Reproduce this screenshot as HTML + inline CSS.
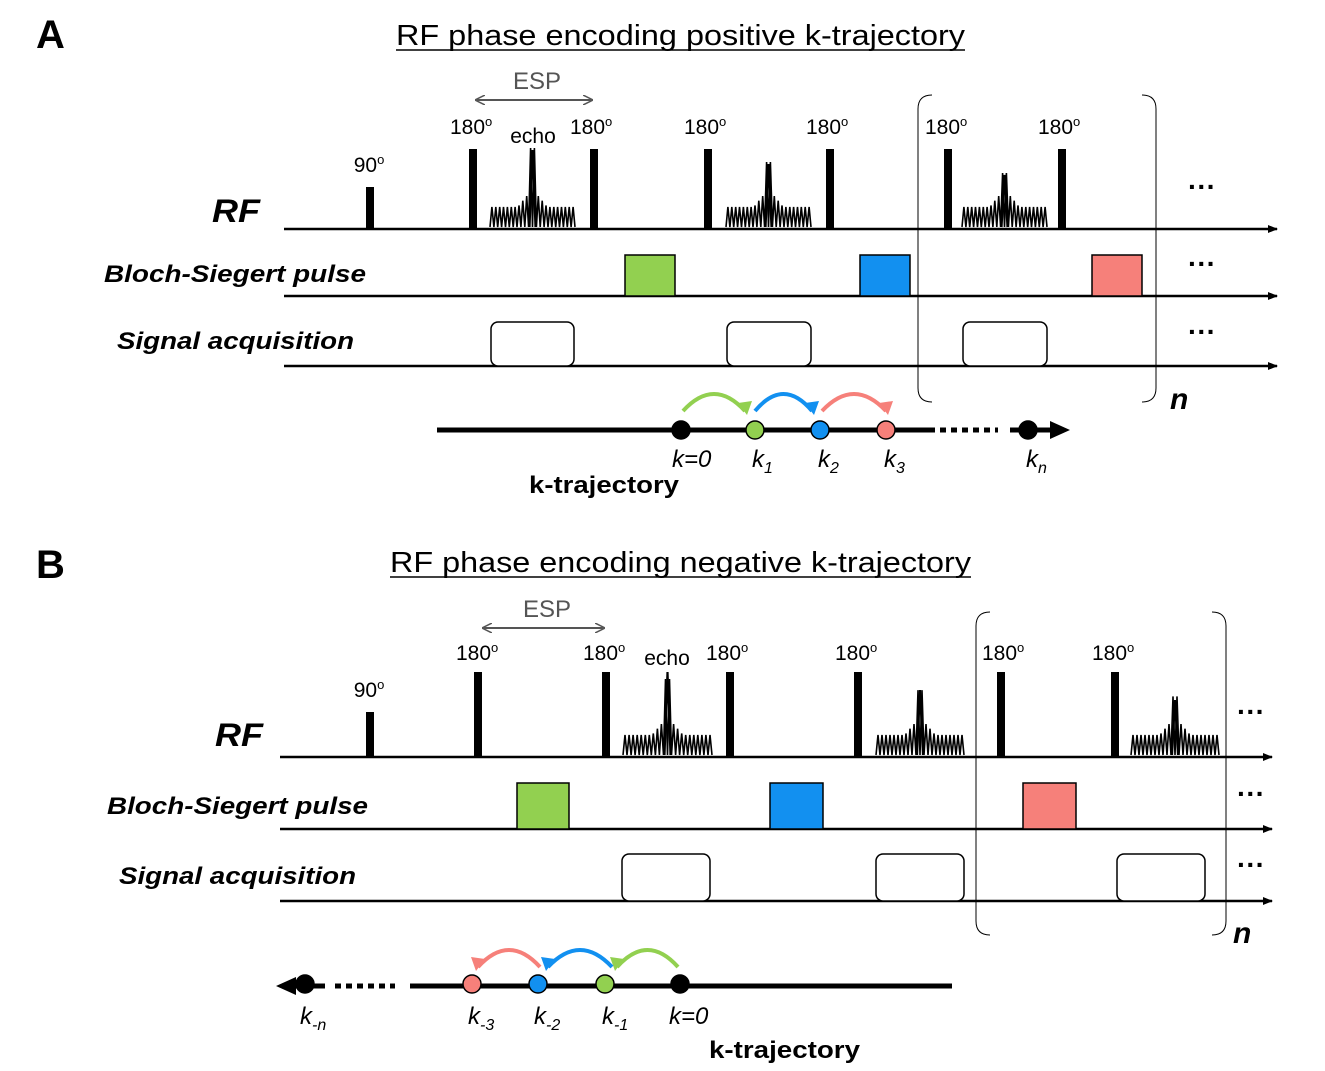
<!DOCTYPE html>
<html><head><meta charset="utf-8"><style>
body{margin:0;background:#fff}
svg{display:block}
text{font-family:"Liberation Sans",Arial,sans-serif}
.lbl{font-weight:bold;font-style:italic}
</style></head><body>
<svg id="s" width="1325" height="1071" viewBox="0 0 1325 1071" xmlns="http://www.w3.org/2000/svg">
<defs>
<marker id="ah" markerWidth="10" markerHeight="10" refX="9" refY="5" orient="auto" markerUnits="userSpaceOnUse"><path d="M0,1 L10,5 L0,9 Z" fill="#000"/></marker>
<marker id="gh" markerWidth="10" markerHeight="10" refX="9" refY="5" orient="auto-start-reverse" markerUnits="userSpaceOnUse"><path d="M0,0 L10,5 L0,10" fill="none" stroke="#555" stroke-width="1.5"/></marker>
</defs>
<text x="36" y="48" font-size="40" font-weight="bold">A</text>
<text x="36" y="578" font-size="40" font-weight="bold">B</text>
<g id="g"></g>
</svg>
<script>
var g=document.getElementById('g'),h='';
function L(x1,y1,x2,y2,w,c,m){h+='<line x1="'+x1+'" y1="'+y1+'" x2="'+x2+'" y2="'+y2+'" stroke="'+(c||'#000')+'" stroke-width="'+w+'"'+(m?' marker-end="url(#'+m+')"':'')+'/>';}
function R(x,y,w,hh,f,rx){h+='<rect x="'+x+'" y="'+y+'" width="'+w+'" height="'+hh+'" fill="'+f+'" stroke="#000" stroke-width="1.5"'+(rx?' rx="'+rx+'"':'')+'/>';}
function T(x,y,s,t,extra){h+='<text x="'+x+'" y="'+y+'" font-size="'+s+'" '+(extra||'')+'>'+t+'</text>';}
function TL(x,y,s,t,len,extra){h+='<text x="'+x+'" y="'+y+'" font-size="'+s+'" textLength="'+len+'" lengthAdjust="spacingAndGlyphs" '+(extra||'')+'>'+t+'</text>';}
function P(x,top,base){h+='<rect x="'+(x-4)+'" y="'+top+'" width="8" height="'+(base-top)+'" fill="#000"/>';}
function echo(x0,x1,base,top){var c=(x0+x1)/2,n=22,p='',hw=(x1-x0)/2;for(var i=0;i<=n*2;i++){var x=x0+(x1-x0)*i/(n*2);var d=Math.abs(x-c)/hw;var a;if(i%2==0)a=0;else{a=20+ (d<0.12?(base-top-20)*(1-d/0.12):0)+ (d<0.35?18*(1-d/0.35):0);}
if(Math.abs(x-c)<2&&i%2==1)a=base-top;p+=x.toFixed(1)+','+(base-2-a).toFixed(1)+' ';}
p=x0+','+(base-2)+' '+p;h+='<polyline points="'+p+'" fill="none" stroke="#000" stroke-width="1.6"/>';
h+='<path d="M'+(c-3)+','+(base-2)+' L'+c+','+top+' L'+(c+3)+','+(base-2)+'" fill="none" stroke="#000" stroke-width="2.2"/>';}
function dots(x,y){h+='<text x="'+x+'" y="'+y+'" font-size="28" font-weight="bold">···</text>';}
function circ(x,y,f){h+='<circle cx="'+x+'" cy="'+y+'" r="9" fill="'+f+'" stroke="#000" stroke-width="1.5"/>';}
function arc(x1,x2,y,c,rev){var m=(x1+x2)/2;h+='<path d="M'+x1+','+y+' Q'+m+','+(y-34)+' '+x2+','+y+'" fill="none" stroke="'+c+'" stroke-width="4"/>';
var dx=rev?-1:1;h+='<path d="M'+(x2-7*dx)+','+(y-8)+' L'+(x2+2*dx)+','+(y+4)+' L'+(x2+7*dx)+','+(y-10)+' Z" fill="'+c+'"/>';}
function brk(x1,x2,y1,y2){h+='<path d="M'+(x1+14)+','+y1+' Q'+x1+','+y1+' '+x1+','+(y1+14)+' L'+x1+','+(y2-14)+' Q'+x1+','+y2+' '+(x1+14)+','+y2+'" fill="none" stroke="#000" stroke-width="1"/>';
h+='<path d="M'+(x2-14)+','+y1+' Q'+x2+','+y1+' '+x2+','+(y1+14)+' L'+x2+','+(y2-14)+' Q'+x2+','+y2+' '+(x2-14)+','+y2+'" fill="none" stroke="#000" stroke-width="1"/>';}
var G='#92d050',B='#1290f0',Rd='#f6807a';
// ---- A ----
TL(396,45,29,'RF phase encoding positive k-trajectory',569);
L(396,50,965,50,1.5);
L(284,229,1277,229,2.5,0,'ah');L(284,296,1277,296,2.5,0,'ah');L(284,366,1277,366,2.5,0,'ah');
TL(212,222,32,'RF',48,'class="lbl"');TL(104,282,24,'Bloch-Siegert pulse',262,'class="lbl"');TL(117,349,24,'Signal acquisition',237,'class="lbl"');
P(370,187,229);[473,594,708,830,948,1062].forEach(function(x){P(x,149,229);});
T(369,172,21,'90<tspan dy="-8" font-size="13">o</tspan>','text-anchor="middle"');
[[473,450],[594,570],[708,684],[830,806],[948,925],[1062,1038]].forEach(function(a){T(a[1],134,21,'180<tspan dy="-8" font-size="13">o</tspan>');});
T(533,143,21,'echo','text-anchor="middle"');
h+='<line x1="476" y1="100" x2="592" y2="100" stroke="#555" stroke-width="2" marker-start="url(#gh)" marker-end="url(#gh)"/>';T(537,89,24,'ESP','text-anchor="middle" fill="#555"');
echo(490,575,229,150);echo(726,811,229,164);echo(962,1047,229,175);
R(625,255,50,41,G);R(860,255,50,41,B);R(1092,255,50,41,Rd);
R(491,322,83,44,'#fff',7);R(727,322,84,44,'#fff',7);R(963,322,84,44,'#fff',7);
brk(918,1156,95,402);T(1170,409,30,'n','class="lbl"');
dots(1188,196);dots(1188,273);dots(1188,341);
L(437,430,935,430,5);h+='<line x1="940" y1="430" x2="998" y2="430" stroke="#000" stroke-width="5" stroke-dasharray="6,5"/>';L(1010,430,1052,430,5);h+='<path d="M1050,421 L1070,430 L1050,439 Z"/>';
arc(683,745,411,G);arc(755,812,411,B);arc(822,886,411,Rd);
circ(681,430,'#000');circ(755,430,G);circ(820,430,B);circ(886,430,Rd);circ(1028,430,'#000');
T(672,467,24,'k=0','font-style="italic"');T(752,467,24,'k<tspan dy="6" font-size="16">1</tspan>','font-style="italic"');T(818,467,24,'k<tspan dy="6" font-size="16">2</tspan>','font-style="italic"');T(884,467,24,'k<tspan dy="6" font-size="16">3</tspan>','font-style="italic"');T(1026,467,24,'k<tspan dy="6" font-size="16">n</tspan>','font-style="italic"');
TL(529,493,24,'k-trajectory',150,'font-weight="bold"');
// ---- B ----
TL(390,572,29,'RF phase encoding negative k-trajectory',581);
L(390,577,971,577,1.5);
L(280,757,1272,757,2.5,0,'ah');L(280,829,1272,829,2.5,0,'ah');L(280,901,1272,901,2.5,0,'ah');
TL(215,746,32,'RF',48,'class="lbl"');TL(107,814,24,'Bloch-Siegert pulse',261,'class="lbl"');TL(119,884,24,'Signal acquisition',237,'class="lbl"');
P(370,712,757);[478,606,730,858,1001,1115].forEach(function(x){P(x,672,757);});
T(369,697,21,'90<tspan dy="-8" font-size="13">o</tspan>','text-anchor="middle"');
[[478,456],[606,583],[730,706],[858,835],[1001,982],[1115,1092]].forEach(function(a){T(a[1],660,21,'180<tspan dy="-8" font-size="13">o</tspan>');});
T(667,665,21,'echo','text-anchor="middle"');
h+='<line x1="483" y1="628" x2="604" y2="628" stroke="#555" stroke-width="2" marker-start="url(#gh)" marker-end="url(#gh)"/>';T(547,617,24,'ESP','text-anchor="middle" fill="#555"');
echo(623,712,757,672);echo(876,964,757,690);echo(1131,1219,757,700);
R(517,783,52,46,G);R(770,783,53,46,B);R(1023,783,53,46,Rd);
R(622,854,88,47,'#fff',7);R(876,854,88,47,'#fff',7);R(1117,854,88,47,'#fff',7);
brk(976,1226,612,935);T(1233,943,30,'n','class="lbl"');
dots(1237,721);dots(1237,803);dots(1237,874);
L(410,986,952,986,5);h+='<line x1="335" y1="986" x2="395" y2="986" stroke="#000" stroke-width="5" stroke-dasharray="6,5"/>';L(290,986,325,986,5);h+='<path d="M296,977 L276,986 L296,995 Z"/>';
arc(678,617,967,G,1);arc(612,548,967,B,1);arc(540,478,967,Rd,1);
circ(472,984,Rd);circ(538,984,B);circ(605,984,G);circ(680,984,'#000');circ(305,984,'#000');
T(468,1024,24,'k<tspan dy="6" font-size="16">-3</tspan>','font-style="italic"');T(534,1024,24,'k<tspan dy="6" font-size="16">-2</tspan>','font-style="italic"');T(602,1024,24,'k<tspan dy="6" font-size="16">-1</tspan>','font-style="italic"');T(669,1024,24,'k=0','font-style="italic"');T(300,1024,24,'k<tspan dy="6" font-size="16">-n</tspan>','font-style="italic"');
TL(709,1058,24,'k-trajectory',151,'font-weight="bold"');
g.innerHTML=h;
</script>
</body></html>
